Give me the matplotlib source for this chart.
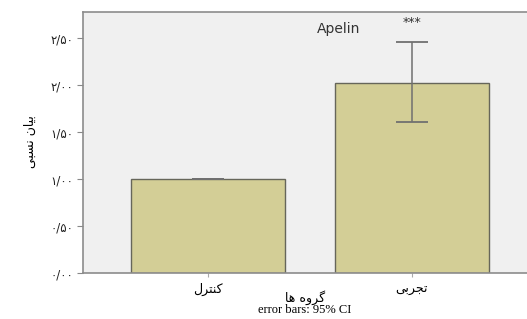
import matplotlib
matplotlib.use('Agg')
import matplotlib.pyplot as plt

plt.rcParams['font.family'] = ['DejaVu Sans', 'Noto Sans']

# Persian labels, written in visual order with Arabic presentation forms
# کنترل / تجربی / گروه ها / بیان نسبی
groups = ['\uFEDD\uFEAE\uFE98\uFEE8\uFB90',          # کنترل
          '\uFBFD\uFE91\uFEAE\uFEA0\uFE97']          # تجربی
means = [1.00, 2.03]
ci_low = [1.00, 1.61]
ci_high = [1.00, 2.46]
yticks = [0.0, 0.5, 1.0, 1.5, 2.0, 2.5]
ytick_labels = ['\u06F0/\u06F0\u06F0', '\u06F0/\u06F5\u06F0', '\u06F1/\u06F0\u06F0',
                '\u06F1/\u06F5\u06F0', '\u06F2/\u06F0\u06F0', '\u06F2/\u06F5\u06F0']
xlabel = '\uFE8E\uFEEB \uFEE9\uFEED\uFEAE\uFB94'        # گروه ها
ylabel = '\uFBFD\uFE92\uFEB4\uFEE7 \uFEE5\uFE8E\uFBFF\uFE91'  # بیان نسبی

fig = plt.figure(figsize=(5.27, 3.19), dpi=100)
fig.patch.set_facecolor('white')
ax = fig.add_axes([0.1575, 0.144, 0.8425, 0.818])
ax.set_facecolor('#f0f0f0')

x = list(range(len(groups)))
err = [[m - lo for m, lo in zip(means, ci_low)],
       [hi - m for m, hi in zip(means, ci_high)]]
ax.bar(x, means, width=0.755, color='#d3ce96', edgecolor='#66665a', linewidth=1.0, zorder=2)
ax.errorbar(x, means, yerr=err, fmt='none', ecolor='#707070', elinewidth=1.1,
            capsize=11.5, capthick=1.3, zorder=3)

ax.set_xlim(-0.613, 1.564)
ax.set_ylim(0, 2.78)
ax.set_yticks(yticks)
ax.set_yticklabels(ytick_labels, fontsize=8.5, color='#222222')
ax.set_xticks(x)
ax.set_xticklabels(groups, fontsize=9)
ax.tick_params(axis='y', length=4, color='#888888', pad=3)
ax.tick_params(axis='x', length=3, color='#aaaaaa', pad=4)

ax.spines['right'].set_visible(False)
for s in ['left', 'top', 'bottom']:
    ax.spines[s].set_color('#8c8c8c')
    ax.spines[s].set_linewidth(1.2)

ax.text(0.64, 2.60, 'Apelin', fontsize=10, ha='center', va='center', color='#333333')
ax.text(1.0, 2.67, '***', fontsize=9, ha='center', va='center', color='#333333')

fig.text(0.579, 0.068, xlabel, fontsize=9, ha='center', va='center')
fig.text(0.579, 0.028, 'error bars: 95% CI', fontsize=9, ha='center', va='center',
         family='Liberation Serif')
fig.text(0.057, 0.555, ylabel, fontsize=9, ha='center', va='center', rotation=90)

fig.savefig('out.png', dpi=100)
